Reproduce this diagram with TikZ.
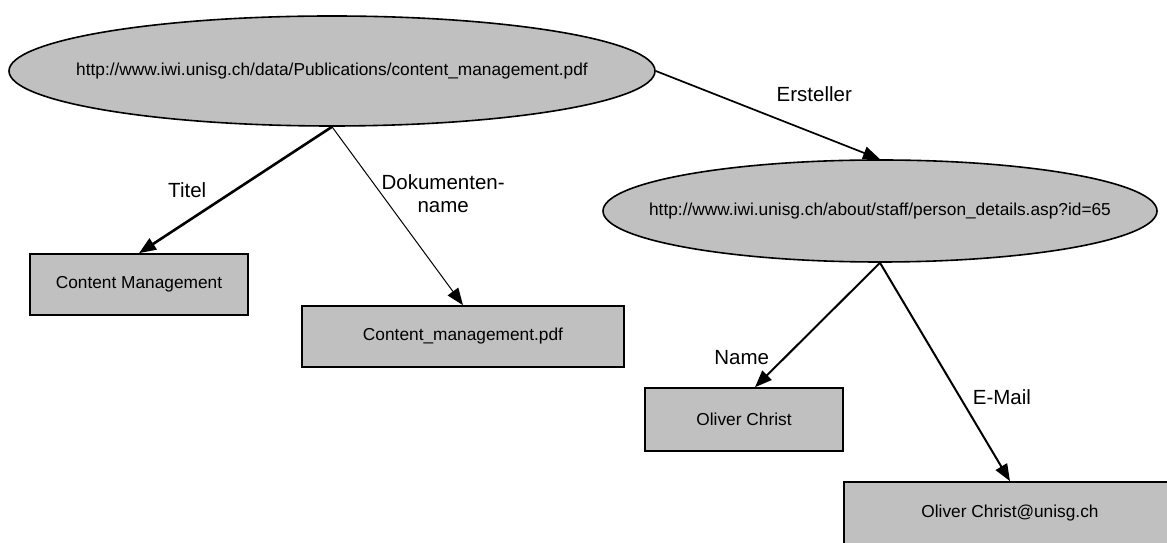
\documentclass[tikz,border=0pt]{standalone}
\usepackage{fontspec}
\setmainfont{Liberation Sans}
\usetikzlibrary{positioning,arrows.meta,shapes.geometric}
\definecolor{nodegray}{HTML}{C0C0C0}

\begin{document}
\begin{tikzpicture}[x=1pt,y=1pt,>={Triangle[length=17pt,width=13pt]},
  resource/.style={ellipse,draw,line width=1.6pt,fill=nodegray,inner sep=0pt},
  literal/.style={rectangle,draw,line width=1.6pt,fill=nodegray,inner sep=0pt,font=\fontsize{17.3}{20}\selectfont},
  url/.style={inner sep=0pt,font=\fontsize{17.3}{20}\selectfont},
  prop/.style={inner sep=0pt,font=\fontsize{20.5}{23}\selectfont,align=center}]
\useasboundingbox (0,0) rectangle (1167,543);
\clip (0,0) rectangle (1167,543);
\node[resource,minimum width=646pt,minimum height=110pt,label={[url]center:http://www.iwi.unisg.ch/data/Publications/content\_management.pdf}] (doc) at (332,472) {};
\node[resource,minimum width=554pt,minimum height=102pt,label={[url]center:http://www.iwi.unisg.ch/about/staff/person\_details.asp?id=65}] (person) at (880,332) {};
\node[literal,minimum width=218pt,minimum height=61pt] (titel) at (139,258.5) {Content Management};
\node[literal,minimum width=322pt,minimum height=61pt] (docname) at (463,206.5) {Content\_management.pdf};
\node[literal,minimum width=198pt,minimum height=63pt] (fullname) at (744,123.5) {Oliver Christ};
\node[literal,minimum width=332pt,minimum height=63pt] (email) at (1010,29.5) {Oliver Christ@unisg.ch};
\draw[->,line width=2.6pt] (doc.south) -- node[prop,pos=.5,left=28pt]{Titel} (titel.north);
\draw[->,line width=1pt] (doc.south) -- node[prop,pos=.375,right]{Dokumenten-\\name} (docname.north);
\draw[->,line width=1.7pt] (doc.east) -- node[prop,pos=.707,above=31pt]{Ersteller} (person.north);
\draw[->,line width=2pt] (person.south) -- node[prop,pos=.76,left=15pt]{Name} ([xshift=11pt]fullname.north);
\draw[->,line width=2pt] (person.south) -- node[prop,pos=.614,right=12pt]{E-Mail} (email.north);
\end{tikzpicture}
\end{document}
